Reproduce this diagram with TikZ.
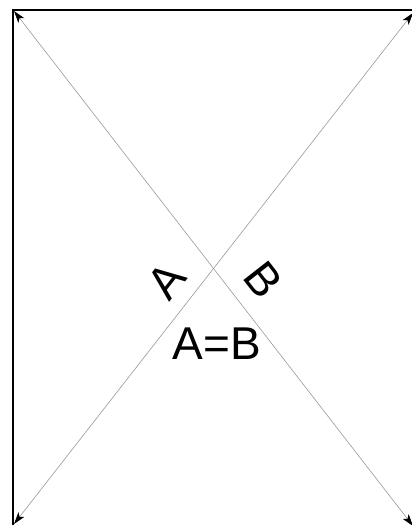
\documentclass[tikz,border=0pt]{standalone}
\usepackage{fontspec}
\setmainfont{Liberation Sans}
\usetikzlibrary{arrows.meta}
\tikzset{
  tip/.tip={Stealth[black,length=12pt,width=7.5pt,inset=3pt]},
  diag/.style={draw=black!40, line width=0.6pt, tip-tip},
  lbl/.style={inner sep=0pt, font=\fontsize{46}{54}\selectfont}
}
\begin{document}
\begin{tikzpicture}[x=1pt,y=1pt]
\useasboundingbox (0,0) rectangle (412,525);
\clip (0,0) rectangle (412,525);
\draw[line width=1.2pt] (13,515) rectangle (418,-6);
\coordinate (tl) at (14,514);
\coordinate (tr) at (413,512);
\coordinate (bl) at (14,1);
\coordinate (br) at (413,-1);
\draw[diag] (tl) -- (br);
\draw[diag] (bl) -- (tr);
\node[lbl, rotate=52] (a) at (166,244) {A};
\node[lbl, rotate=-52] (b) at (263,245) {B};
\node[lbl] (ab) at (217,181.5) {A=B};
\end{tikzpicture}
\end{document}
